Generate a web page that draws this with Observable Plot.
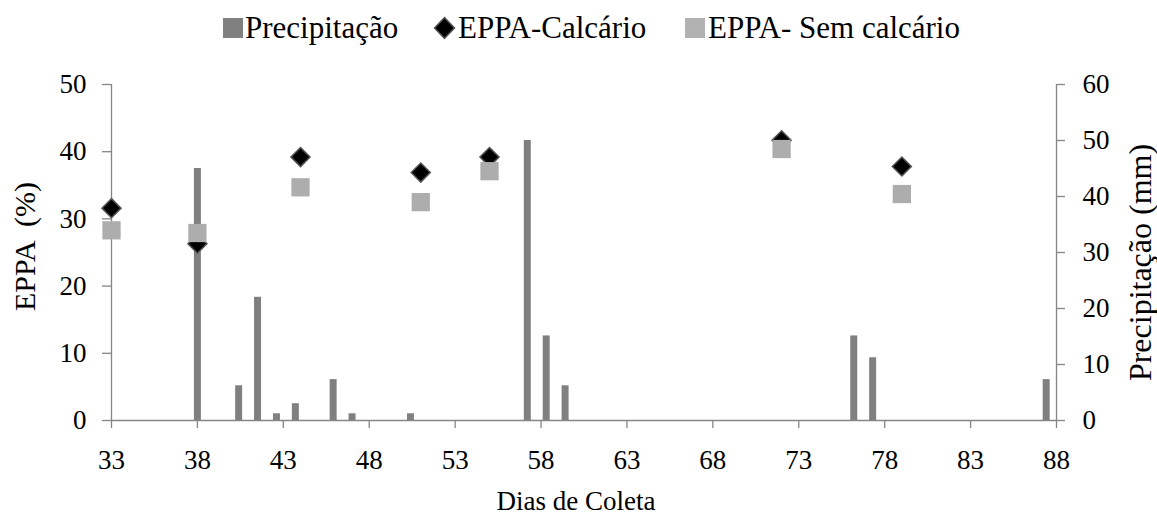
<!DOCTYPE html>
<html>
<head>
<meta charset="utf-8">
<script src="https://cdn.jsdelivr.net/npm/d3@7"></script>
<script src="https://cdn.jsdelivr.net/npm/@observablehq/plot@0.6"></script>
<style>
  body { margin: 0; background: #fff; font-family: "Liberation Serif", "Times New Roman", serif; }
  #wrap { width: 1157px; height: 517px; position: relative; background: #fff; }
  #legend { position: relative; width: 1157px; height: 56px; }
  #legend .sw { position: absolute; }
  #legend .lb { position: absolute; top: 12px; font-size: 31px; line-height: 31px; white-space: pre; color: #000; }
  #chart svg, #chart svg text { font-family: "Liberation Serif", "Times New Roman", serif !important; }
  svg text { white-space: pre; }
</style>
</head>
<body>
<div id="wrap">
  <div id="legend"></div>
  <div id="chart"></div>
</div>
<script>
// Collection days (x axis) and tick values
const xTicks = [33, 38, 43, 48, 53, 58, 63, 68, 73, 78, 83, 88];
const eppaTicks = [0, 10, 20, 30, 40, 50];
const precipTicks = [0, 10, 20, 30, 40, 50, 60];

// Daily rainfall (mm)
const rainDays = [38, 40.4, 41.5, 42.6, 43.7, 45.9, 47.0, 50.4, 57.2, 58.3, 59.4, 76.2, 77.3, 87.4];
const rainMm   = [45, 6.2, 22, 1.2, 3, 7.3, 1.2, 1.2, 50, 15.1, 6.2, 15.1, 11.2, 7.3];

// EPPA (%) on each sampling day
const eppaDays     = [33, 38, 44, 51, 55, 72, 79];
const eppaCalcario = [31.6, 26.3, 39.2, 36.9, 39.2, 41.7, 37.8];
const eppaSemCalc  = [28.3, 27.9, 34.7, 32.5, 37.1, 40.4, 33.7];

const seriesNames = ["Precipitação", "EPPA-Calcário", "EPPA- Sem calcário"];

const rain = rainDays.map((day, i) => ({day, mm: rainMm[i]}));
const eppa = eppaDays.map((day, i) => ({day, calc: eppaCalcario[i], sem: eppaSemCalc[i]}));

// Rainfall shares the plot's y scale: 0–60 mm spans the same height as 0–50 %
const ratio = 50 / 60;

const axisGray = "#868686";
const barGray = "#808080";
const squareGray = "#adadad";
const serif = '"Liberation Serif", "Times New Roman", serif';

// Legend
const legend = document.getElementById("legend");
legend.innerHTML = `
  <div class="sw" style="left:223px;top:18px;width:20px;height:20px;background:${barGray}"></div>
  <div class="lb" style="left:245px">${seriesNames[0]}</div>
  <svg class="sw" style="left:433px;top:16px" width="23" height="24">
    <polygon points="11.5,1.5 21.5,12 11.5,22.5 1.5,12" fill="#000" stroke="#555" stroke-width="1.5"/>
  </svg>
  <div class="lb" style="left:458px">${seriesNames[1]}</div>
  <div class="sw" style="left:685px;top:18px;width:20px;height:20px;background:#b2b2b2"></div>
  <div class="lb" style="left:708px">${seriesNames[2]}</div>
`;

const chart = Plot.plot({
  width: 1157,
  height: 461,
  marginTop: 28,
  marginBottom: 97,
  marginLeft: 111,
  marginRight: 101,
  style: {
    fontFamily: serif,
    fontSize: "27px",
    color: "black",
    background: "white",
    overflow: "visible"
  },
  x: {domain: [33, 88], label: null},
  y: {domain: [0, 50], label: null},
  marks: [
    // axis lines
    Plot.ruleY([0], {stroke: axisGray, strokeWidth: 1.3}),
    Plot.ruleX([33], {y1: 0, y2: 50, stroke: axisGray, strokeWidth: 1.3}),
    Plot.ruleX([88], {y1: 0, y2: 50, stroke: axisGray, strokeWidth: 1.3}),
    Plot.axisX({ticks: xTicks, tickSize: 8, tickPadding: 21, stroke: axisGray, strokeWidth: 1.3, fill: "black", fontSize: 27, fontFamily: serif, label: null, tickFormat: d => String(d)}),
    Plot.axisY({anchor: "left", ticks: eppaTicks, tickSize: 9, tickPadding: 16, stroke: axisGray, strokeWidth: 1.3, fill: "black", fontSize: 27, fontFamily: serif, label: null, tickFormat: d => String(d)}),
    Plot.axisY({anchor: "right", ticks: precipTicks.map(v => v * ratio), tickSize: 8, tickPadding: 18, stroke: axisGray, strokeWidth: 1.3, fill: "black", fontSize: 27, fontFamily: serif, label: null, tickFormat: v => String(Math.round(v / ratio))}),
    // rainfall bars
    Plot.ruleX(rain, {x: "day", y1: 0, y2: d => d.mm * ratio, stroke: barGray, strokeWidth: 7}),
    // EPPA series
    Plot.dot(eppa, {x: "day", y: "calc", symbol: "diamond2", r: 8.6, fill: "black", stroke: "#555", strokeWidth: 1.5}),
    Plot.dot(eppa, {x: "day", y: "sem", symbol: "square", r: 10.3, fill: squareGray}),
    // axis titles
    Plot.text(["Dias de Coleta"], {text: d => d, frameAnchor: "bottom", lineAnchor: "bottom", textAnchor: "middle", dx: -8, dy: 89, fontSize: 27, fontFamily: serif, fill: "black"}),
    Plot.text(["EPPA  (%)"], {text: d => d, frameAnchor: "left", textAnchor: "middle", lineAnchor: "middle", rotate: -90, dx: -86, dy: -6, fontSize: 30, fontFamily: serif, fill: "black"}),
    Plot.text(["Precipitação (mm)"], {text: d => d, frameAnchor: "right", textAnchor: "middle", lineAnchor: "middle", rotate: -90, dx: 84, dy: 10, fontSize: 32, fontFamily: serif, fill: "black"})
  ]
});
document.getElementById("chart").appendChild(chart);
</script>
</body>
</html>
